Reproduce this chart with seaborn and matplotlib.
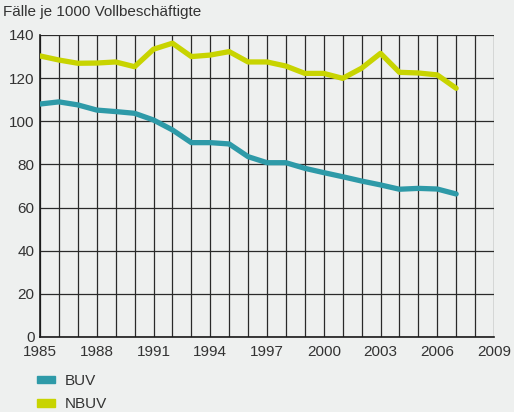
import matplotlib
matplotlib.use('Agg')
import matplotlib.pyplot as plt
import numpy as np
import pandas as pd
import seaborn as sns
from matplotlib.ticker import MultipleLocator

years = list(range(1985, 2008))
buv = [108, 109, 107.6, 105.2, 104.5, 103.7, 100.6, 96, 90.1, 90.1, 89.5, 83.6,
       80.8, 80.8, 78.2, 76.2, 74.3, 72.3, 70.5, 68.5, 68.9, 68.6, 66.3]
nbuv = [130.3, 128.4, 126.9, 127, 127.5, 125.3, 133.4, 136.2, 130, 130.7, 132.3, 127.5,
        127.5, 125.6, 122.2, 122.2, 119.9, 124.6, 131.5, 122.7, 122.4, 121.5, 115.3]
xticks = [1985, 1988, 1991, 1994, 1997, 2000, 2003, 2006, 2009]
series_names = ['BUV', 'NBUV']
colors = ['#2e9aa8', '#c8d400']

df = pd.DataFrame({'Jahr': years * 2,
                   'Wert': buv + nbuv,
                   'Reihe': ['BUV'] * len(years) + ['NBUV'] * len(years)})

bg = '#eef0ef'
sns.set_theme(style='white')
plt.rcParams['font.family'] = ['Liberation Sans', 'DejaVu Sans']

fig = plt.figure(figsize=(5.14, 4.12), dpi=100, facecolor=bg)
ax = fig.add_axes([40 / 514, 1 - 337 / 412, 454 / 514, 302 / 412])
ax.set_facecolor(bg)

sns.lineplot(data=df, x='Jahr', y='Wert', hue='Reihe', hue_order=series_names,
             palette=colors, linewidth=3.8, ax=ax, legend=False, zorder=3)

ax.set_xlim(1985, 2009)
ax.set_ylim(0, 140)
ax.set_xticks(xticks)
ax.xaxis.set_minor_locator(MultipleLocator(1))
ax.yaxis.set_major_locator(MultipleLocator(20))
ax.grid(True, which='both', axis='x', color='#2a2a2a', linewidth=0.9)
ax.grid(True, which='major', axis='y', color='#2a2a2a', linewidth=0.9)
ax.tick_params(which='both', length=0, labelsize=11, colors='#333333')
ax.tick_params(axis='x', pad=6)
ax.tick_params(axis='y', pad=4)
for s in ax.spines.values():
    s.set_visible(False)
for side in ['left', 'bottom']:
    ax.spines[side].set_visible(True)
    ax.spines[side].set_color('#1a1a1a')
    ax.spines[side].set_linewidth(1.2)
ax.set_xlabel('')
ax.set_ylabel('')

fig.text(3 / 514, 1 - 12 / 412, 'Fälle je 1000 Vollbeschäftigte', fontsize=11,
         color='#333333', va='center', ha='left')

handles = [plt.Rectangle((0, 0), 1, 1, color=c) for c in colors]
leg = fig.legend(handles, series_names, loc='upper left',
                 bbox_to_anchor=(34 / 514, 1 - 371 / 412), frameon=False,
                 handlelength=1.2, handleheight=0.4, handletextpad=0.6,
                 labelspacing=0.6, fontsize=11, borderaxespad=0, borderpad=0.2)
for t in leg.get_texts():
    t.set_color('#333333')

fig.savefig('out.png', dpi=100, facecolor=bg)
